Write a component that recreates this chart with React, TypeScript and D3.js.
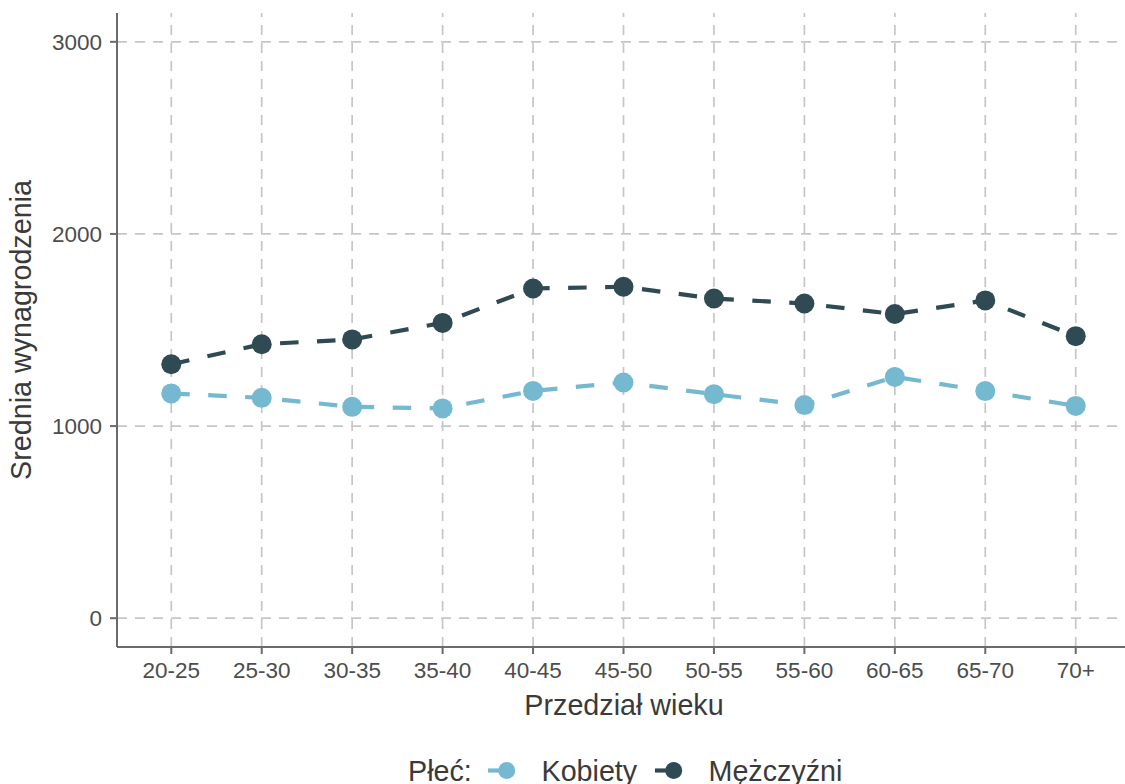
import React from "react";
import * as d3 from "d3";

const categories = ["20-25", "25-30", "30-35", "35-40", "40-45", "45-50", "50-55", "55-60", "60-65", "65-70", "70+"];
const kobiety = [1170, 1147, 1100, 1092, 1183, 1227, 1166, 1109, 1256, 1182, 1105];
const mezczyzni = [1322, 1426, 1451, 1537, 1716, 1725, 1664, 1638, 1583, 1654, 1468];
const yTicks = [0, 1000, 2000, 3000];
const seriesNames = ["Kobiety", "Mężczyźni"];
const seriesColors = ["#74B9D0", "#2F4A52"];

const W = 1125;
const H = 784;
const left = 117;
const right = 1130;
const top = 13;
const bottom = 647;
const FONT = "'Liberation Sans', Arial, sans-serif";

export default function App() {
  const x = d3.scaleLinear().domain([0.4, categories.length + 0.6]).range([left, right]);
  const y = d3.scaleLinear().domain([-150, 3150]).range([bottom, top]);
  const line = d3
    .line<number>()
    .x((_, i) => x(i + 1))
    .y((d) => y(d));
  const series = [kobiety, mezczyzni];
  const grid = "#c6c6c6";
  const axisCol = "#6b6b6b";

  return (
    <svg width={W} height={H} style={{ position: "absolute", left: 0, top: 0, background: "#fff" }} fontFamily={FONT}>
      {/* grid */}
      {yTicks.map((t) => (
        <line key={"gy" + t} x1={left} x2={right} y1={y(t)} y2={y(t)} stroke={grid} strokeWidth={1.7} strokeDasharray="10 8" />
      ))}
      {categories.map((c, i) => (
        <line key={"gx" + c} x1={x(i + 1)} x2={x(i + 1)} y1={bottom} y2={top} stroke={grid} strokeWidth={1.7} strokeDasharray="10 8" />
      ))}
      {/* axes */}
      <line x1={left} x2={left} y1={top} y2={bottom} stroke={axisCol} strokeWidth={2} />
      <line x1={left} x2={right} y1={bottom} y2={bottom} stroke={axisCol} strokeWidth={2} />
      {yTicks.map((t) => (
        <g key={"ty" + t}>
          <line x1={left - 7} x2={left} y1={y(t)} y2={y(t)} stroke={axisCol} strokeWidth={2} />
          <text x={left - 15} y={y(t) + 8} textAnchor="end" fontSize={22.5} fill="#4d4d4d">
            {t}
          </text>
        </g>
      ))}
      {categories.map((c, i) => (
        <g key={"tx" + c}>
          <line x1={x(i + 1)} x2={x(i + 1)} y1={bottom} y2={bottom + 7} stroke={axisCol} strokeWidth={2} />
          <text x={x(i + 1)} y={678} textAnchor="middle" fontSize={22.5} fill="#4d4d4d">
            {c}
          </text>
        </g>
      ))}
      {/* titles */}
      <text x={624} y={715} textAnchor="middle" fontSize={28.7} fill="#3a3a3a">
        Przedział wieku
      </text>
      <text transform={`translate(31, ${(top + bottom) / 2}) rotate(-90)`} textAnchor="middle" fontSize={28.7} fill="#3a3a3a">
        Srednia wynagrodzenia
      </text>
      {/* series */}
      {series.map((s, k) => (
        <g key={"s" + k}>
          <path d={line(s) || ""} fill="none" stroke={seriesColors[k]} strokeWidth={4.2} strokeDasharray="18.5 18.5" />
          {s.map((v, i) => (
            <circle key={i} cx={x(i + 1)} cy={y(v)} r={10} fill={seriesColors[k]} />
          ))}
        </g>
      ))}
      {/* legend */}
      <text x={408} y={781} fontSize={28.7} fill="#3a3a3a">
        Płeć:
      </text>
      {[488, 655].map((lx, k) => (
        <g key={"lg" + k}>
          <line x1={lx} x2={lx + 37} y1={770.5} y2={770.5} stroke={seriesColors[k]} strokeWidth={4.2} strokeDasharray="18.5 18.5" />
          <circle cx={lx + 18.7} cy={770.5} r={8.5} fill={seriesColors[k]} />
          <text x={lx + 53.5} y={781} fontSize={28.7} fill="#3a3a3a">
            {seriesNames[k]}
          </text>
        </g>
      ))}
    </svg>
  );
}
